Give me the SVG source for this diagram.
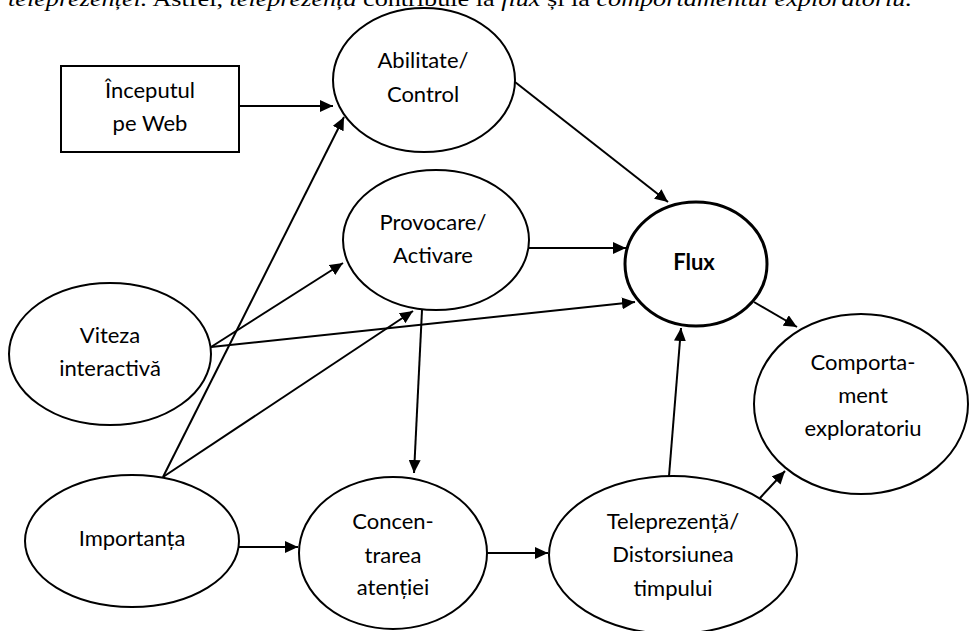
<svg xmlns="http://www.w3.org/2000/svg" width="969" height="631" viewBox="0 0 969 631">
  <style>
    .node { fill: #ffffff; stroke: #000000; stroke-width: 2; }
    .bold-node { fill: #ffffff; stroke: #000000; stroke-width: 3; }
    .label { font-family: Lato, "Open Sans", "Liberation Sans", sans-serif; font-size: 22px; fill: #000000; text-anchor: middle; }
    .label-b { font-family: Lato, "Open Sans", "Liberation Sans", sans-serif; font-size: 22px; font-weight: bold; fill: #000000; text-anchor: middle; }
    .edge { fill: none; stroke: #000000; stroke-width: 2; marker-end: url(#arrow); }
    .caption { font-family: "Liberation Serif", "DejaVu Serif", serif; font-size: 21px; fill: #000000; }
    .it { font-style: italic; }
  </style>
  <defs>
    <marker id="arrow" markerUnits="userSpaceOnUse" markerWidth="14" markerHeight="12" refX="13" refY="6" orient="auto">
      <path d="M0,0 L13,6 L0,12 z" fill="#000000"/>
    </marker>
  </defs>

  <rect width="969" height="631" fill="#ffffff"/>

  <!-- running text line above the figure -->
  <text class="caption" x="8" y="6" textLength="904" lengthAdjust="spacingAndGlyphs"><tspan class="it">teleprezenței.</tspan> Astfel, <tspan class="it">teleprezența</tspan> contribuie la <tspan class="it">flux</tspan> și la <tspan class="it">comportamentul exploratoriu.</tspan></text>

  <g id="connectors">
    <line class="edge" x1="239" y1="106" x2="333" y2="106"/>
    <line class="edge" x1="163" y1="477" x2="344" y2="117"/>
    <line class="edge" x1="163" y1="477" x2="413" y2="311"/>
    <line class="edge" x1="211" y1="347" x2="343" y2="263"/>
    <line class="edge" x1="211" y1="347" x2="635" y2="302"/>
    <line class="edge" x1="515" y1="82" x2="668" y2="202"/>
    <line class="edge" x1="529" y1="248" x2="626" y2="248"/>
    <line class="edge" x1="422" y1="310" x2="414" y2="473"/>
    <line class="edge" x1="238" y1="547" x2="298" y2="547"/>
    <line class="edge" x1="487" y1="553" x2="548" y2="553"/>
    <line class="edge" x1="669" y1="476" x2="681" y2="328"/>
    <line class="edge" x1="754" y1="302" x2="797" y2="327"/>
    <line class="edge" x1="760" y1="498" x2="785" y2="471"/>
  </g>

  <g id="inceputul">
    <rect class="node" x="61" y="66" width="178" height="86"/>
    <text class="label" x="150" y="98">Începutul</text>
    <text class="label" x="150" y="131">pe Web</text>
  </g>

  <g id="abilitate">
    <ellipse class="node" cx="424" cy="80" rx="91" ry="72"/>
    <text class="label" x="423" y="68">Abilitate/</text>
    <text class="label" x="423" y="102">Control</text>
  </g>

  <g id="provocare">
    <ellipse class="node" cx="436" cy="240" rx="93" ry="70"/>
    <text class="label" x="433" y="230">Provocare/</text>
    <text class="label" x="433" y="263">Activare</text>
  </g>

  <g id="flux">
    <ellipse class="bold-node" cx="696" cy="264" rx="71" ry="62"/>
    <text class="label-b" x="694" y="270">Flux</text>
  </g>

  <g id="viteza">
    <ellipse class="node" cx="110" cy="354" rx="101" ry="71"/>
    <text class="label" x="110" y="343">Viteza</text>
    <text class="label" x="110" y="376">interactivă</text>
  </g>

  <g id="importanta">
    <ellipse class="node" cx="132" cy="541" rx="107" ry="66"/>
    <text class="label" x="132" y="546">Importanța</text>
  </g>

  <g id="concentrarea">
    <ellipse class="node" cx="393" cy="553" rx="94" ry="76"/>
    <text class="label" x="393" y="529">Concen-</text>
    <text class="label" x="393" y="563">trarea</text>
    <text class="label" x="393" y="595">atenției</text>
  </g>

  <g id="teleprezenta">
    <ellipse class="node" cx="673" cy="555" rx="124" ry="79"/>
    <text class="label" x="673" y="529">Teleprezență/</text>
    <text class="label" x="673" y="562">Distorsiunea</text>
    <text class="label" x="673" y="596">timpului</text>
  </g>

  <g id="comportament">
    <ellipse class="node" cx="861" cy="404" rx="107" ry="90"/>
    <text class="label" x="863" y="370">Comporta-</text>
    <text class="label" x="863" y="403">ment</text>
    <text class="label" x="863" y="436">exploratoriu</text>
  </g>
</svg>
